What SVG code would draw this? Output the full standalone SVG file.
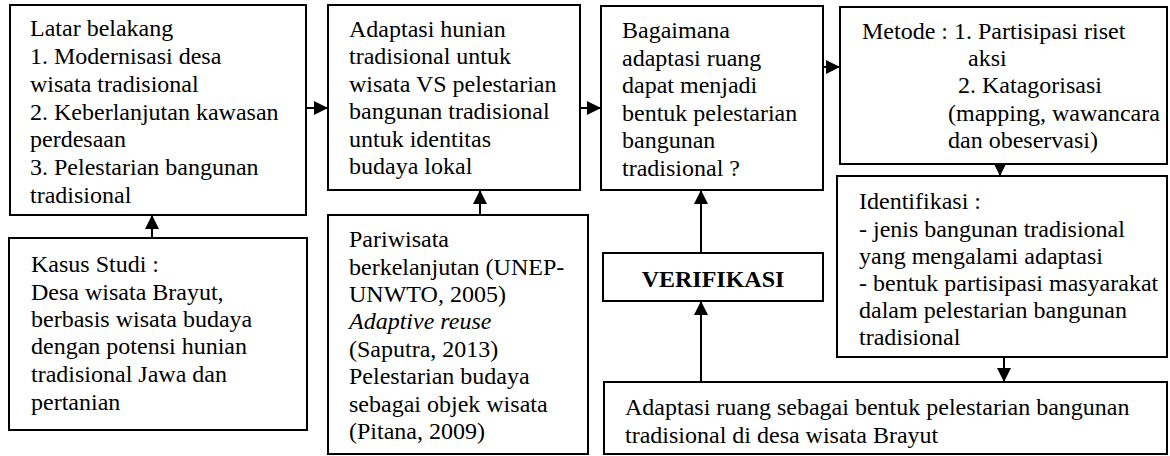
<svg xmlns="http://www.w3.org/2000/svg" width="1170" height="456" viewBox="0 0 1170 456">
<style>
.box{fill:#fff;stroke:#000;stroke-width:2}
.t{font-family:"Liberation Serif","Times New Roman",serif;font-size:24px;fill:#000}
.b{font-weight:bold}
.i{font-style:italic}
.c{stroke:#000;stroke-width:2;fill:none;marker-end:url(#ah)}
</style>
<defs>
<marker id="ah" markerUnits="userSpaceOnUse" markerWidth="14" markerHeight="14" viewBox="0 0 12 12" refX="12" refY="6" orient="auto">
<path d="M0,0 L12,6 L0,12 z" fill="#000"/>
</marker>
</defs>
<rect width="1170" height="456" fill="#fff"/>
<g id="connectors">
<line class="c" x1="306" y1="108" x2="328" y2="108"/>
<line class="c" x1="580" y1="108" x2="601" y2="108"/>
<line class="c" x1="823" y1="67" x2="840" y2="67"/>
<line class="c" x1="1000" y1="164" x2="1000" y2="176"/>
<line class="c" x1="1004" y1="357" x2="1004" y2="382"/>
<line class="c" x1="701" y1="382" x2="701" y2="301"/>
<line class="c" x1="701" y1="253" x2="701" y2="190"/>
<line class="c" x1="152" y1="238" x2="152" y2="215"/>
<line class="c" x1="480" y1="215" x2="480" y2="190"/>
</g>
<g id="latar">
<rect class="box" x="10" y="5" width="296" height="210"/>
<text class="t" x="30"><tspan x="30" y="36">Latar belakang</tspan><tspan x="30" y="64">1. Modernisasi desa</tspan><tspan x="30" y="92">wisata tradisional</tspan><tspan x="30" y="120">2. Keberlanjutan kawasan</tspan><tspan x="30" y="147">perdesaan</tspan><tspan x="30" y="175">3. Pelestarian bangunan</tspan><tspan x="30" y="203">tradisional</tspan></text>
</g>
<g id="adaptasi">
<rect class="box" x="328" y="5" width="252" height="185"/>
<text class="t"><tspan x="349" y="37">Adaptasi hunian</tspan><tspan x="349" y="64">tradisional untuk</tspan><tspan x="349" y="92">wisata VS pelestarian</tspan><tspan x="349" y="119">bangunan tradisional</tspan><tspan x="349" y="147">untuk identitas</tspan><tspan x="349" y="174">budaya lokal</tspan></text>
</g>
<g id="bagaimana">
<rect class="box" x="601" y="6" width="222" height="184"/>
<text class="t"><tspan x="622" y="38">Bagaimana</tspan><tspan x="622" y="66">adaptasi ruang</tspan><tspan x="622" y="93">dapat menjadi</tspan><tspan x="622" y="121">bentuk pelestarian</tspan><tspan x="622" y="148">bangunan</tspan><tspan x="622" y="176">tradisional ?</tspan></text>
</g>
<g id="metode">
<rect class="box" x="840" y="7" width="327" height="157"/>
<text class="t"><tspan x="862" y="39">Metode : 1. Partisipasi riset</tspan><tspan x="968" y="66">aksi</tspan><tspan x="958" y="93">2. Katagorisasi</tspan><tspan x="948" y="121">(mapping, wawancara</tspan><tspan x="948" y="148">dan obeservasi)</tspan></text>
</g>
<g id="identifikasi">
<rect class="box" x="837" y="176" width="330" height="181"/>
<text class="t"><tspan x="859" y="209">Identifikasi :</tspan><tspan x="859" y="237">- jenis bangunan tradisional</tspan><tspan x="859" y="264">yang mengalami adaptasi</tspan><tspan x="859" y="291">- bentuk partisipasi masyarakat</tspan><tspan x="859" y="318">dalam pelestarian bangunan</tspan><tspan x="859" y="345">tradisional</tspan></text>
</g>
<g id="kasus">
<rect class="box" x="9" y="238" width="298" height="192"/>
<text class="t"><tspan x="31" y="272">Kasus Studi :</tspan><tspan x="31" y="300">Desa wisata Brayut,</tspan><tspan x="31" y="327">berbasis wisata budaya</tspan><tspan x="31" y="354">dengan potensi hunian</tspan><tspan x="31" y="382">tradisional Jawa dan</tspan><tspan x="31" y="410">pertanian</tspan></text>
</g>
<g id="pariwisata">
<rect class="box" x="328" y="215" width="260" height="239"/>
<text class="t"><tspan x="349" y="247">Pariwisata</tspan><tspan x="349" y="275">berkelanjutan (UNEP-</tspan><tspan x="349" y="302">UNWTO, 2005)</tspan><tspan x="349" y="329" class="i">Adaptive reuse</tspan><tspan x="349" y="357">(Saputra, 2013)</tspan><tspan x="349" y="384">Pelestarian budaya</tspan><tspan x="349" y="412">sebagai objek wisata</tspan><tspan x="349" y="439">(Pitana, 2009)</tspan></text>
</g>
<g id="verifikasi">
<rect class="box" x="603" y="253" width="220" height="48"/>
<text class="t b" x="713" y="287" text-anchor="middle">VERIFIKASI</text>
</g>
<g id="hasil">
<rect class="box" x="604" y="382" width="563" height="72"/>
<text class="t"><tspan x="625" y="415">Adaptasi ruang sebagai bentuk pelestarian bangunan</tspan><tspan x="625" y="443">tradisional di desa wisata Brayut</tspan></text>
</g>
</svg>
